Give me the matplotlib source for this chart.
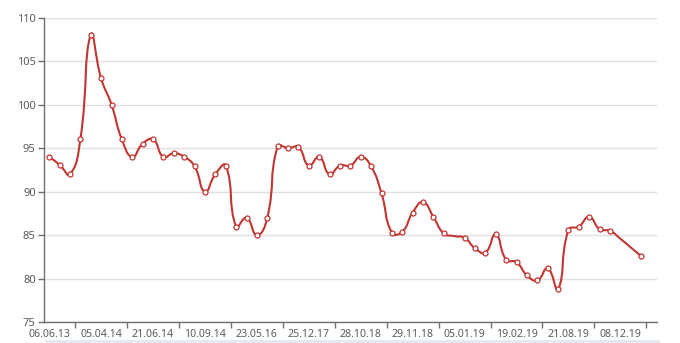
import numpy as np
import matplotlib
matplotlib.use("Agg")
import matplotlib.pyplot as plt
from matplotlib.path import Path
from matplotlib.patches import PathPatch, Rectangle

# values, one per category
values = [94, 93.1, 92, 96, 108, 103, 100, 96, 94, 95.5,
          96, 94, 94.4, 94, 92.9, 90, 92, 93, 86, 87,
          85, 87, 95.2, 95, 95.1, 93, 94, 92, 93, 93,
          94, 92.9, 89.8, 85.3, 85.4, 87.6, 88.8, 87.1, 85.2, 84.9,
          84.7, 83.5, 83.0, 85.1, 82.2, 81.9, 80.4, 79.8, 81.2, 78.8,
          85.6, 86.0, 87.1, 85.7, 85.5, 84.6, 83.6, 82.6]
n_categories = 59
tick_labels = ["06.06.13", "05.04.14", "21.06.14", "10.09.14", "23.05.16",
               "25.12.17", "28.10.18", "29.11.18", "05.01.19", "19.02.19",
               "21.08.19", "08.12.19"]
label_every = 5
no_symbol = [39, 55, 56]

LINE = "#c23531"
GRID = "#e0e0e0"
AXIS = "#6e7079"
TEXT = "#5a5a5a"

plt.rcParams["font.family"] = ["Noto Sans", "DejaVu Sans"]


def smooth_path(xs, ys, sx, sy, smooth=0.5):
    # echarts-like smoothing, done in pixel space
    px = np.asarray(xs, float) * sx
    py = np.asarray(ys, float) * sy
    n = len(px)
    verts = [(px[0], py[0])]
    codes = [Path.MOVETO]
    cp0 = (px[0], py[0])
    for i in range(1, n):
        x, y = px[i], py[i]
        if i == n - 1:
            cp1 = (x, y)
            nxt_cp = (x, y)
        else:
            vx = px[i + 1] - px[i - 1]
            vy = py[i + 1] - py[i - 1]
            d0 = np.hypot(x - px[i - 1], y - py[i - 1])
            d1 = np.hypot(px[i + 1] - x, py[i + 1] - y)
            r = d1 / (d0 + d1)
            cp1 = (x - vx * smooth * (1 - r), y - vy * smooth * (1 - r))
            nxt_cp = (x + vx * smooth * r, y + vy * smooth * r)
        verts += [cp0, cp1, (x, y)]
        codes += [Path.CURVE4] * 3
        cp0 = nxt_cp
    verts = np.array(verts)
    verts[:, 0] /= sx
    verts[:, 1] /= sy
    return Path(verts, codes)


fig = plt.figure(figsize=(6.8, 3.43), dpi=100)
ax = fig.add_axes([44 / 680, 20.7 / 343, 612.7 / 680, 304.8 / 343])

x = np.arange(len(values))
ax.set_xlim(-0.5, n_categories - 0.5)
ax.set_ylim(75, 110)

sx = 612.7 / n_categories
sy = 304.8 / 35
ax.add_patch(PathPatch(smooth_path(x, values, sx, sy), fill=False,
                       edgecolor=LINE, linewidth=1.5, zorder=3,
                       capstyle="round", joinstyle="round"))
shown = [i for i in range(len(values)) if i not in no_symbol]
ax.plot(x[shown], np.array(values)[shown], linestyle="none", marker="o",
        markersize=3.6, markerfacecolor="white", markeredgecolor=LINE,
        markeredgewidth=0.9, zorder=4)

# y axis
ax.set_yticks(np.arange(75, 111, 5))
ax.yaxis.grid(True, color=GRID, linewidth=1)
ax.set_axisbelow(True)
ax.tick_params(axis="y", length=4, width=1, color=AXIS, labelcolor=TEXT,
               labelsize=8, pad=2)

# x axis: ticks on band boundaries, labels on categories
ax.set_xticks(np.arange(label_every - 2.5, n_categories, label_every))
ax.set_xticklabels([])
ax.set_xticks(np.arange(0, len(tick_labels) * label_every, label_every), minor=True)
ax.set_xticklabels(tick_labels, minor=True)
ax.tick_params(axis="x", which="major", length=4, width=1, color=AXIS)
ax.tick_params(axis="x", which="minor", length=0, labelcolor=TEXT,
               labelsize=7.6, pad=4.5)

for side in ["top", "right"]:
    ax.spines[side].set_visible(False)
for side in ["left", "bottom"]:
    ax.spines[side].set_color(AXIS)
    ax.spines[side].set_linewidth(1)

# slider strip at the bottom edge
fig.patches.append(Rectangle((46 / 680, 0), 614 / 680, 3 / 343,
                             transform=fig.transFigure, facecolor="#e6e9f0",
                             edgecolor="none"))

fig.savefig("out.png", dpi=100)
